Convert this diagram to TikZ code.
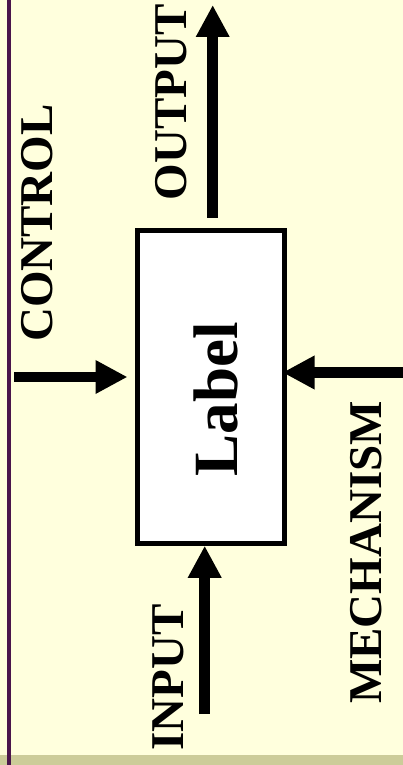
\documentclass[tikz,border=0pt]{standalone}
\usepackage{fontspec}
\setmainfont{Liberation Serif}
\usetikzlibrary{arrows.meta}
\definecolor{paper}{HTML}{FFFFDD}
\definecolor{strip}{HTML}{CCCC99}
\definecolor{rule}{HTML}{4A154B}
\begin{document}
\begin{tikzpicture}[x=1pt,y=-1pt,
  flow/.style={line width=10.5pt, -{Triangle[width=31.5pt,length=32pt]}},
  tag/.style={rotate=90, anchor=base, inner sep=0pt,
    font=\fontsize{47}{47}\selectfont\bfseries},
  activity/.style={draw, line width=5pt, fill=white, minimum width=147pt,
    minimum height=313pt, inner sep=0pt, outer sep=2.5pt}]
% page background, bottom band and left rule
\fill[paper] (0,0) rectangle (403,765);
\fill[strip] (0,755) rectangle (403,765);
\fill[rule] (7.3,0) rectangle (11.3,765);
\useasboundingbox (0,0) rectangle (403,765);

% activity box and its name
\node[activity] (box) at (210.5,386.75) {};
\node[rotate=90, anchor=base, inner sep=0pt,
  font=\fontsize{63}{63}\selectfont\bfseries] (label) at (237,399.5) {Label};

% free ends of the four flows
\coordinate (in) at (204.7,714);
\coordinate (out) at (212.7,5);
\coordinate (ctl) at (14,377);
\coordinate (mech) at (403,372.5);

\draw[flow] (in) -- (in |- box.south);
\draw[flow, shorten <=10pt] (out |- box.north) -- (out);
\draw[flow, shorten >=7pt] (ctl) -- (ctl -| box.west);
\draw[flow, shorten >=-4pt] (mech) -- (mech -| box.east);

% flow labels
\node[tag] (control) at (52.5,223) {CONTROL};
\node[tag] (output) at (186,102.5) {OUTPUT};
\node[tag] (input) at (183,677.5) {INPUT};
\node[tag] (mechanism) at (381.5,552.5) {MECHANISM};
\end{tikzpicture}
\end{document}
